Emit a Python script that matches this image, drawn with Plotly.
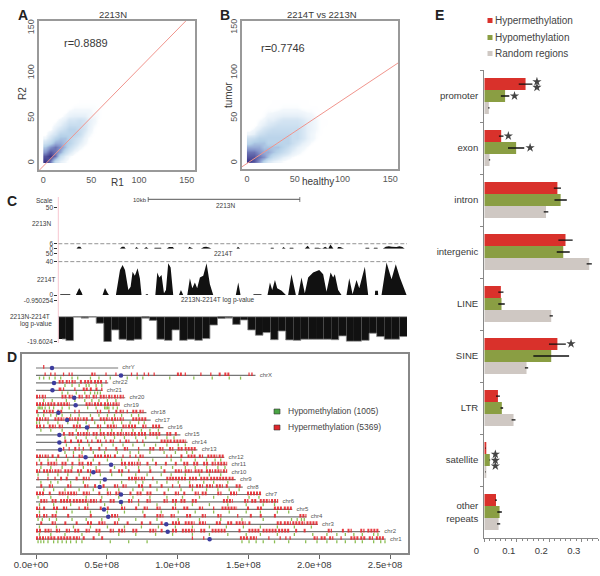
import plotly.graph_objects as go

# ---------- Panels A / B : density grids (5-unit cells, rows bottom to top), fits ----------
cell_centers = [2.5 + 5 * i for i in range(18)]
row_centers = [2.5 + 5 * i for i in range(14)]
density_a = [
    [10, 8, 3, 1, .3, 0, 0, 0, 0, 0, 0, 0, 0, 0, 0, 0, 0, 0],
    [9, 10, 8, 3, 1, .3, 0, 0, 0, 0, 0, 0, 0, 0, 0, 0, 0, 0],
    [7, 9, 8, 6, 3, 1.5, .4, 0, 0, 0, 0, 0, 0, 0, 0, 0, 0, 0],
    [5, 7, 8, 7, 5, 3, 1.5, .5, .1, 0, 0, 0, 0, 0, 0, 0, 0, 0],
    [2.5, 4, 6, 6, 5, 4, 2.5, 1.2, .4, .1, 0, 0, 0, 0, 0, 0, 0, 0],
    [.5, 2, 4, 5, 5, 4, 3, 2, .7, .2, 0, 0, 0, 0, 0, 0, 0, 0],
    [0, 1, 2, 4, 4, 4, 4, 3, 1.2, .4, .1, 0, 0, 0, 0, 0, 0, 0],
    [0, 0, 1, 2, 3, 4, 4, 3, 2, .8, .2, 0, 0, 0, 0, 0, 0, 0],
    [0, 0, .4, 1, 2, 3, 3, 3, 2, 1, .3, .1, 0, 0, 0, 0, 0, 0],
    [0, 0, 0, .5, 1, 2, 2, 2.5, 2, 1, .5, .1, 0, 0, 0, 0, 0, 0],
    [0, 0, 0, 0, .4, .8, 1, 1, 1, .5, .3, .2, 0, 0, 0, 0, 0, 0],
    [0, 0, 0, 0, 0, .3, .4, .4, .4, .4, .2, .2, 0, 0, 0, 0, 0, 0],
    [0, 0, 0, 0, 0, 0, .2, .2, .2, .2, .2, .1, .1, 0, 0, 0, 0, 0],
    [0, 0, 0, 0, 0, 0, 0, .1, .1, .1, .1, .1, 0, 0, 0, 0, 0, 0],
]
density_b = [
    [10, 9, 7, 4, 2, 1, .5, .2, 0, 0, 0, 0, 0, 0, 0, 0, 0, 0],
    [9, 9, 8, 7, 5, 3, 2, 1, .5, .2, 0, 0, 0, 0, 0, 0, 0, 0],
    [8, 8, 7, 6, 6, 5, 4, 3, 2, 1, .5, .2, 0, 0, 0, 0, 0, 0],
    [6, 6, 6, 5, 5, 5, 5, 4, 3, 2, 1, .5, .2, 0, 0, 0, 0, 0],
    [4, 5, 5, 5, 4, 4, 4, 4, 4, 3, 2, 1, .5, .2, 0, 0, 0, 0],
    [2.5, 3, 4, 4, 4, 4, 4, 4, 4, 3, 3, 2, 1, .5, .2, 0, 0, 0],
    [.5, 1, 2.5, 3, 3.5, 3.5, 3.5, 3.5, 3.5, 3, 3, 2, 1, .5, .2, .1, 0, 0],
    [0, .3, 1, 2, 2.5, 3, 3, 3, 3, 3, 3, 2, 1, .7, .3, .1, 0, 0],
    [0, 0, .4, 1, 1.5, 2, 2.5, 2.5, 2.5, 2.5, 2.5, 2, 1, .7, .3, .1, .1, 0],
    [0, 0, .2, .4, 1, 1, 1.5, 2, 2, 2, 2, 1.5, 1, .7, .3, .1, .1, 0],
    [0, 0, 0, .2, .4, .6, .8, 1, 1, 1, 1, .8, .5, .4, .2, .1, 0, 0],
    [0, 0, 0, .1, .2, .2, .3, .4, .4, .4, .4, .3, .2, .2, .1, .1, 0, 0],
    [0, 0, 0, 0, .1, .1, .1, .2, .2, .2, .2, .1, .1, .1, .1, 0, 0, 0],
    [0, 0, 0, 0, 0, .1, .1, .1, .1, .1, .1, .1, .1, 0, 0, 0, 0, 0],
]
fit_a = (-3.5, 1.083)
fit_b = (-0.3, 0.702)
x_span_a = (-4.5, 158.6)
x_span_b = (-5.2, 158.2)

# ---------- Panel C : tracks ----------
track_n_kb = [1.2, 1.3, 1.45, 1.55, 4.05, 4.2, 4.35, 4.45, 5.05, 5.15, 5.3, 5.65, 5.8, 5.95, 6.33, 6.35, 6.78, 6.8, 7.15, 7.3, 7.55, 7.65,
              8.55, 8.65, 8.9, 9.4, 9.6, 9.75, 9.95, 10.1, 11.75, 11.85, 12.0, 14.0, 14.02, 14.2, 14.22, 14.75, 14.85, 15.0, 15.25, 15.27, 15.5, 15.52,
              16.25, 16.45, 16.6, 16.9, 16.92, 17.15, 17.4, 17.6, 17.8, 17.95, 18.15, 18.4, 18.45, 18.6, 18.85,
              20.25, 20.27, 20.5, 20.52, 20.8, 20.82, 21.05, 21.07, 21.4, 21.6, 21.8, 22.0, 22.3, 22.5, 22.7, 22.85]
track_n_val = [0, 2.5, 2.5, 0, 0, 2.5, 2.5, 0, 0, 2, 0, 0, 2, 0, 0, 1, 1, 0, 0, 2, 2, 0,
               0, 2.5, 0, 0, 2, 2.5, 1.5, 0, 0, 2.5, 0, 0, 1, 1, 0, 0, 2, 0, 0, 1, 1, 0,
               0, 3.5, 0, 0, 1, 1, 0, 2.5, 0, 5, 0, 0, 2, 2, 0,
               0, 1, 1, 0, 0, 1, 1, 0, 0, 2.5, 3, 2.5, 2, 3, 2, 0]
track_t_kb = [.11, .15, .77, .81, 1.16, 1.25, 1.38, 1.54, 1.6, 2.92, 3.08, 3.23, 3.34,
              3.80, 4.07, 4.24, 4.40, 4.62, 4.77, 4.90, 5.05, 5.23, 5.38, 5.49, 5.76, 5.78, 5.91, 5.93,
              6.40, 6.53, 6.66, 6.81, 6.97, 7.10, 7.25, 7.41, 7.58, 7.96, 8.09, 8.24,
              8.51, 8.68, 8.84, 9.01, 9.16, 9.34, 9.56, 9.78, 10.0, 10.22, 11.71, 11.87, 12.02,
              12.86, 12.88, 13.39, 13.41, 13.80, 13.96, 14.11, 14.29, 14.44, 14.73, 15.01, 15.16, 15.38, 15.67,
              15.82, 16.04, 16.26, 16.48, 16.81, 17.21, 17.47, 17.69, 17.96, 18.13, 18.24, 18.46, 18.68,
              19.01, 19.19, 19.41, 19.67, 19.85, 20.22, 20.44, 20.88, 20.9, 21.08, 21.10,
              21.32, 21.65, 21.98, 22.26, 22.53, 22.97]
track_t_val = [0, 1, 1, 0, 0, 3, 8.5, 3, 0, 0, 8.5, 3, 0,
               0, 30, 36, 30, 6, 10, 28, 23, 32, 20, 0, 0, 1, 1, 0,
               0, 27, 21, 24, 2, 6, 38, 33, 0, 0, 6, 0,
               0, 20, 8, 15, 8, 21, 23, 38, 13, 0, 0, 15, 0,
               0, 1, 1, 0, 0, 15, 6, 18, 8, 5, 0, 0, 25, 0,
               0, 21, 2, 21, 27, 30, 25, 4, 27, 21, 25, 6, 0,
               0, 20, 1, 18, 8, 34, 0, 0, 5, 5, 0,
               0, 39, 19, 37, 21, 0]
window_index = list(range(46))
log_p_values = [-18.4, -19.1, -8.3, -8.8, -8.3, -11.3, -19.6, -14.3, -18.5, -19.0, -18.5, -8.9, -10.0, -18.5, -19.0, -14.3,
                -19.0, -18.5, -19.0, -18.2, -12.1, -9.1, -8.8, -11.8, -9.8, -14.3, -16.7, -15.5, -18.7, -14.8, -18.8, -19.0,
                -18.5, -18.5, -18.5, -18.5, -18.7, -17.0, -19.4, -19.4, -19.0, -15.8, -17.3, -18.5, -18.5, -17.3]
log_p_base = -8.34
window_kb = 0.5

# ---------- Panel D : genome map (Mb). Plain numbers are single sites, pairs are runs of sites ----------
chrom_names = ["chrY", "chrX", "chr22", "chr21", "chr20", "chr19", "chr18", "chr17", "chr16", "chr15", "chr14", "chr13",
               "chr12", "chr11", "chr10", "chr9", "chr8", "chr7", "chr6", "chr5", "chr4", "chr3", "chr2", "chr1"]
chrom_lengths = [58, 155, 51, 47, 63, 59, 78, 81, 90, 102, 107, 114, 133, 135, 135, 141, 146, 159, 171, 181, 191, 199, 243, 247]
centromeres = [11.3, 60, 12.7, 11.6, 27, 28, 15.8, 22, 36, 16.5, 16.5, 17, 35, 53, 40.5, 48.6, 45, 60, 60, 48, 51, 92, 93, 122.6]
hyper_y = [5]
hypo_y = []
hyper_x = [6, 10, 13, 19, 23, 25, (39, 42), 49, 56, 67, 71, 76, 79, 83, (99.5, 103), 105, 116, 123, (129, 131), (133, 137), 150, (152, 153)]
hypo_x = [2, 5, 9, 13, 17, 25, 29, 38, 44, 52, 64, 71, 75, 94, 111, 124, 136, 144]
hyper_22 = [(16, 20), (21, 24), (25, 28), (31, 33), (34, 40), (41, 47), 49]
hypo_22 = [20, 25, 30, 35, 37, 42, 46]
hyper_21 = [16, 17, 19, 27, (33, 37), (38, 40), (42, 44), 46]
hypo_21 = [18, 22, 28, 34, 38, 41, 43, 45]
hyper_20 = [(0, 3), (4, 7), (18, 22), (23, 26), (30, 33), (35, 38), (40, 43), (45, 50), (51, 54), (55, 58), (59, 62)]
hypo_20 = [5, 11, 21, 27, 34, 39, 44, 50, 56]
hyper_19 = [(0, 7), (8, 14), (15, 24), (35, 40), (41, 47), (48, 53), (54, 59)]
hypo_19 = [1, 2, 3, 4, 6, 9, 12, 18, 23, 36, 42, 48, 49, 50, 51, 54, 57]
hyper_18 = [(0, 2), (5, 8), (9, 13), (15, 19), 27, 30, 43, (45, 46), 51, (56, 58), (59, 62), 64, (68, 72), (73, 76)]
hypo_18 = [1, 5, 10, 14, 18, 24, 30, 38, 44, 50, 55, 60, 67, 72]
hyper_17 = [(0, 5), (6, 9), (13, 20), (21, 26), (27, 32), (33, 37), (39, 41), (45, 52), (53, 58), (59, 62), (68, 78)]
hypo_17 = [0, 2, 8, 15, 22, 29, 35, 41, 48, 54, 60, 66, 72, 76]
hyper_16 = [(0, 4), (5, 6), (9, 14), (16, 19), (26, 32), 37, (43, 46), (50, 57), (61, 64), (65, 71), (75, 78), (82, 88)]
hypo_16 = [3, 10, 18, 28, 36, 45, 53, 60, 68, 74, 80, 86]
hyper_15 = [(19, 21), (23, 27), (29, 32), (33, 38), (40, 44), (45, 49), (50, 56), (57, 62), (63, 66), (67, 71), (72, 78), (80, 88), (92, 96), (98, 100)]
hypo_15 = [20, 28, 35, 42, 48, 55, 62, 70, 77, 85, 92, 97]
hyper_14 = [(20, 22), (24, 26), (29, 33), 36, 39, (43, 46), 49, (52, 55), 59, (63, 66), 71, 75, (88, 96), (97, 106)]
hypo_14 = [21, 30, 37, 46, 54, 61, 68, 76, 84, 92, 100, 105]
hyper_13 = [(19, 20), 23, (27, 29), 30, 33, (38, 40), (44, 46), 49, (56, 58), (62, 65), 72, (80, 84), (87, 90), (94, 97), (100, 104), (105, 113)]
hypo_13 = [20, 26, 32, 40, 48, 57, 66, 72, 80, 90, 98, 106, 110]
hyper_12 = [(0, 5), (6, 9), (11, 13), (15, 17), 21, 26, (30, 33), (41, 47), (48, 53), (55, 57), 61, 66, 70, (73, 76), 92, 95, (102, 104), (107, 113), (115, 118), (121, 128), (129, 133)]
hypo_12 = [2, 8, 14, 22, 30, 40, 50, 60, 72, 82, 95, 102, 112, 120, 126, 130]
hyper_11 = [(0, 1), (3, 5), (8, 15), (18, 22), (25, 27), (30, 34), (36, 40), (44, 46), (60, 64), (65, 70), (71, 74), (78, 80), (84, 86), (91, 93), (98, 100), (104, 108), (111, 115), (118, 122), (124, 127), (128, 135)]
hypo_11 = [3, 10, 18, 25, 33, 42, 55, 63, 72, 80, 88, 96, 105, 112, 120, 128, 133]
hyper_10 = [(0, 3), (5, 12), (13, 18), (20, 26), (29, 33), (36, 39), (42, 46), (52, 54), (58, 62), (65, 66), (72, 74), (80, 82), (90, 92), (98, 103), (105, 110), (112, 118), (120, 125), (126, 131), (132, 135)]
hypo_10 = [1, 8, 15, 22, 30, 38, 45, 53, 60, 70, 78, 88, 95, 105, 115, 122, 130]
hyper_9 = [1, 8, 13, (17, 19), (21, 23), (28, 30), (33, 36), 37, (65, 70), (70, 73), (74, 77), (82, 83), (92, 96), (96, 106), (108, 114), (116, 122), (123, 135), (136, 140)]
hypo_9 = [3, 10, 15, 24, 33, 45, 60, 70, 75, 85, 92, 100, 108, 118, 125, 135]
hyper_8 = [(3, 5), (9, 12), (22, 25), (34, 37), (41, 43), (47, 49), (55, 58), (61, 64), (72, 76), (80, 82), (88, 90), 96, 101, (108, 111), (113, 118), (120, 125), (127, 132), (134, 136), (141, 145)]
hypo_8 = [5, 12, 20, 30, 40, 50, 58, 68, 75, 85, 93, 102, 110, 120, 128, 136, 143]
hyper_7 = [(0, 6), (9, 11), (16, 21), (22, 29), (33, 38), (44, 46), (50, 53), (56, 60), (66, 68), (71, 75), (78, 82), (90, 92), (98, 101), (104, 106), (112, 115), (117, 121), (128, 131), (137, 142), (149, 159)]
hypo_7 = [1, 10, 22, 35, 46, 58, 68, 80, 92, 103, 115, 125, 135, 150, 157]
hyper_6 = [(3, 8), (11, 15), (17, 25), (26, 37), (38, 43), (45, 47), (52, 56), (65, 68), 72, (78, 81), (90, 93), (96, 100), (102, 106), (110, 114), (132, 139), (147, 150), (152, 156), (158, 165), (166, 171)]
hypo_6 = [2, 12, 24, 36, 48, 60, 72, 85, 98, 110, 122, 135, 148, 160, 168]
hyper_5 = [(0, 3), (5, 7), (12, 16), (19, 22), 30, (34, 37), (45, 47), (50, 52), (60, 63), (70, 72), (76, 79), (85, 88), (96, 99), (104, 108), (115, 118), 125, (131, 142), (149, 151), (156, 160), (168, 174), (175, 181)]
hypo_5 = [2, 14, 25, 38, 50, 62, 75, 88, 100, 112, 125, 136, 148, 158, 170, 178]
hyper_4 = [(0, 3), (5, 8), (11, 15), (22, 24), (38, 40), (53, 58), (76, 78), (85, 90), (95, 98), (106, 110), (117, 120), (128, 131), 142, (151, 153), (158, 160), (168, 170), (186, 191)]
hypo_4 = [1, 4, 9, 14, 25, 35, 46, 58, 70, 85, 100, 115, 130, 145, 160, 180, 184, 187, 189]
hyper_3 = [(3, 5), (11, 14), (20, 22), (28, 30), (36, 40), (44, 49), (55, 58), (64, 66), (74, 76), (80, 82), (88, 90), (96, 102), (105, 112), (115, 120), (127, 131), (135, 139), (141, 148), (150, 152), (170, 174), (175, 180), (181, 190), (191, 199)]
hypo_3 = [2, 14, 26, 38, 50, 62, 74, 86, 98, 110, 122, 134, 146, 158, 170, 182, 194]
hyper_2 = [(0, 4), (6, 11), (14, 17), (21, 24), (27, 31), (35, 38), (42, 46), (52, 55), (58, 63), (68, 72), (80, 85), (88, 90), (96, 100), (103, 112), (116, 120), (124, 134), (143, 145), (150, 158), (160, 170), (171, 179), (183, 185), (189, 191), (206, 209), (216, 218), (220, 223), (229, 232), (234, 242)]
hypo_2 = [2, 10, 20, 32, 44, 58, 70, 84, 96, 110, 122, 135, 148, 158, 170, 182, 195, 205, 212, 218, 224, 230, 238, 241]
hyper_1 = [(0, 7), (8, 14), (15, 25), (26, 31), (33, 35), (40, 42), (46, 48), 110, 118, (144, 150), (151, 156), 164, 172, 176, 179, (196, 199), (201, 205), (207, 210), 215, (222, 228), (229, 233), (235, 238), (240, 246)]
hypo_1 = [1, 3, 5, 8, 12, 15, 18, 21, 24, 28, 32, 52, 65, 78, 145, 150, 155, 160, 168, 178, 190, 198, 205, 212, 218, 225, 230, 238, 243, 246]
hyper_rows = [hyper_y, hyper_x, hyper_22, hyper_21, hyper_20, hyper_19, hyper_18, hyper_17, hyper_16, hyper_15, hyper_14, hyper_13,
              hyper_12, hyper_11, hyper_10, hyper_9, hyper_8, hyper_7, hyper_6, hyper_5, hyper_4, hyper_3, hyper_2, hyper_1]
hypo_rows = [hypo_y, hypo_x, hypo_22, hypo_21, hypo_20, hypo_19, hypo_18, hypo_17, hypo_16, hypo_15, hypo_14, hypo_13,
             hypo_12, hypo_11, hypo_10, hypo_9, hypo_8, hypo_7, hypo_6, hypo_5, hypo_4, hypo_3, hypo_2, hypo_1]
genome_ticks = [0, 50, 100, 150, 200, 250]
genome_tick_labels = ["0.0e+00", "0.5e+08", "1.0e+08", "1.5e+08", "2.0e+08", "2.5e+08"]

# ---------- Panel E : fractions ----------
features = ["promoter", "exon", "intron", "intergenic", "LINE", "SINE", "LTR", "satellite", "other<br>repeats"]
hyper_frac = [.127, .052, .225, .250, .051, .225, .042, .004, .036]
hypo_frac = [.064, .098, .235, .243, .053, .206, .054, .017, .047]
random_frac = [.014, .016, .190, .323, .206, .130, .090, .004, .044]
hyper_err = [.021, .007, .011, .022, .008, .026, .006, .001, .003]
hypo_err = [.013, .025, .019, .020, .010, .055, .004, .001, .007]
random_err = [.002, .002, .007, .008, .005, .005, .006, .001, .005]
star_value = [.162, .162, .093, .074, .141, .267, .034, .034, .034]
star_row = [-.275, -.167, 0, .769, .994, 4.763, 6.89, 7.006, 7.115]
RED, GREEN, GREY = "#d9312b", "#8a9e43", "#cfc8c3"

W, H = 600, 576
FONT = "Liberation Sans"
TXT = "#3a3a3a"


def xd(a, b):
    return [a / W, b / W]


def yd(top, bottom):
    return [1 - bottom / H, 1 - top / H]


annotations, shapes = [], []


def label(text, x, y, size=7, anchor="center", angle=0, color=TXT, bold=False):
    annotations.append(dict(text=f"<b>{text}</b>" if bold else text, x=x / W, y=1 - y / H, xref="paper", yref="paper",
                            xanchor=anchor, yanchor="middle", showarrow=False, textangle=angle,
                            font=dict(family=FONT, size=size, color=color)))


def swatch(x0, x1, y0, y1, color, line=None):
    shapes.append(dict(type="rect", xref="paper", yref="paper", x0=x0 / W, x1=x1 / W, y0=1 - y0 / H, y1=1 - y1 / H,
                       fillcolor=color, line=dict(width=0.6 if line else 0, color=line or color)))


fig = go.Figure()
scale = [[0, "rgba(255,255,255,0)"], [.03, "#f3f8fc"], [.15, "#dbe9f5"], [.45, "#b4d0e8"], [.7, "#8494cb"], [1, "#3d3689"]]

for dens, fit, span, xa, ya in [(density_a, fit_a, x_span_a, "x", "y"), (density_b, fit_b, x_span_b, "x2", "y2")]:
    fig.add_trace(go.Heatmap(x=cell_centers, y=row_centers, z=dens, colorscale=scale, zmin=0, zmax=10, zsmooth="best",
                             showscale=False, xaxis=xa, yaxis=ya, hoverinfo="skip"))
    fig.add_trace(go.Scatter(x=list(span), y=[fit[0] + fit[1] * v for v in span], mode="lines",
                             line=dict(color="#f0948c", width=1), xaxis=xa, yaxis=ya, showlegend=False))

# Panel C
fig.add_trace(go.Scatter(x=track_n_kb, y=track_n_val, mode="lines", fill="tozeroy", fillcolor="#111", line=dict(width=0),
                         xaxis="x3", yaxis="y3", showlegend=False))
fig.add_trace(go.Scatter(x=track_t_kb, y=track_t_val, mode="lines", fill="tozeroy", fillcolor="#111", line=dict(width=0),
                         xaxis="x3", yaxis="y4", showlegend=False))
window_mid = [(i + .5) * window_kb for i in window_index]
fig.add_trace(go.Bar(x=window_mid, y=[v - log_p_base for v in log_p_values], base=log_p_base,
                     width=window_kb, marker=dict(color="#111", line=dict(width=0)), xaxis="x3", yaxis="y5", showlegend=False))
fig.add_trace(go.Scatter(x=window_mid, y=log_p_values, mode="lines", line=dict(color="#888", width=0.8, shape="hvh"),
                         xaxis="x3", yaxis="y5", showlegend=False))


def segments(rows, low, tick):
    xs, ys = [], []
    for r, row in enumerate(rows):
        for site in row:
            s, e = site if isinstance(site, tuple) else (site, site + tick)
            xs += [s, e, None]
            ys += [r + low, r + low, None]
    return xs, ys


# Panel D
gx, gy = [], []
for r, n in enumerate(chrom_lengths):
    gx += [0, n, None]
    gy += [r, r, None]
fig.add_trace(go.Scatter(x=gx, y=gy, mode="lines", line=dict(color="#777", width=1.2), xaxis="x4", yaxis="y6", showlegend=False))
hx, hy = segments(hypo_rows, 0.36, 0.9)
fig.add_trace(go.Scatter(x=hx, y=hy, mode="lines", line=dict(color="#7fb83f", width=3), opacity=0.9, xaxis="x4", yaxis="y6", showlegend=False))
rx, ry = segments(hyper_rows, -0.15, 0.9)
fig.add_trace(go.Scatter(x=rx, y=ry, mode="lines", line=dict(color="#e8262d", width=3.6, dash="2px,1px"), opacity=0.88, xaxis="x4", yaxis="y6", showlegend=False))
fig.add_trace(go.Scatter(x=centromeres, y=list(range(24)), mode="markers", marker=dict(color="#3d3d9e", size=4.5),
                         xaxis="x4", yaxis="y6", showlegend=False))
fig.add_trace(go.Scatter(x=[n + 3 for n in chrom_lengths], y=list(range(24)), mode="text", text=chrom_names, textposition="middle right",
                         textfont=dict(family=FONT, size=6, color="#555"), xaxis="x4", yaxis="y6", showlegend=False))

# Panel E
for vals, errs, col in [(hyper_frac, hyper_err, RED), (hypo_frac, hypo_err, GREEN), (random_frac, random_err, GREY)]:
    fig.add_trace(go.Bar(y=features, x=vals, orientation="h", marker=dict(color=col, line=dict(width=0)),
                         error_x=dict(type="data", array=errs, color="#111", thickness=1.3, width=0),
                         xaxis="x5", yaxis="y7", showlegend=False))
fig.add_trace(go.Scatter(x=star_value, y=star_row, mode="markers", marker=dict(symbol="star", size=7, color="#444"),
                         xaxis="x5", yaxis="y8", showlegend=False))

# ---------- furniture ----------
label("A", 23, 15, 14, bold=True, color="#222")
label("B", 225, 15, 14, bold=True, color="#222")
label("C", 12, 201, 14, bold=True, color="#222")
label("D", 12, 357, 14, bold=True, color="#222")
label("E", 439, 15, 14, bold=True, color="#222")
label("2213N", 113, 15, 9.5)
label("2214T vs 2213N", 322, 15, 9.5)
label("r=0.8889", 62, 43, 11, anchor="left")
label("r=0.7746", 259, 48, 11, anchor="left")
label("R1", 117, 183, 10)
label("R2", 23, 94, 10, angle=-90)
label("healthy", 318, 181, 10)
label("tumor", 228, 95, 10, angle=-90)
label("Scale", 55, 200.5, 6.5, anchor="right")
label("10kb", 140, 200, 6)
label("2213N", 225, 206, 6.5)
label("2213N", 41, 223, 6.5)
label("2214T", 223, 253.3, 6.5)
label("2214T", 46, 279.5, 6.5)
label("2213N-2214T log p-value", 218, 300.3, 6.5)
label("2213N-2214T", 30, 316.7, 6.5)
label("log p-value", 36, 324.3, 6.5)
label("Hypomethylation (1005)", 286, 411, 8.5, anchor="left", color="#444")
label("Hypermethylation (5369)", 286, 427, 8.5, anchor="left", color="#444")
label("Hypermethylation", 493.3, 20.5, 10, anchor="left", color="#444")
label("Hypomethylation", 493.3, 37.5, 10, anchor="left", color="#444")
label("Random regions", 493.3, 53.5, 10, anchor="left", color="#444")

swatch(274, 280, 409, 414, "#4aa544", "#333")
swatch(274, 280, 425, 430, "#e0262c", "#333")
swatch(487.5, 492.5, 18, 23, RED)
swatch(487.5, 492.5, 35, 40, GREEN)
swatch(487.5, 492.5, 51, 56, GREY)

# pink track rule, scale bar, view limits
shapes.append(dict(type="line", xref="paper", yref="paper", x0=58.3 / W, x1=58.3 / W, y0=1 - 197 / H, y1=1 - 343 / H,
                   line=dict(color="#f7c6d0", width=1)))
scale_bar = (5.93, 15.93)
shapes.append(dict(type="line", xref="x3", yref="paper", x0=scale_bar[0], x1=scale_bar[1], y0=1 - 199.4 / H, y1=1 - 199.4 / H,
                   line=dict(color="#777", width=1.2)))
for sb in scale_bar:
    shapes.append(dict(type="line", xref="x3", yref="paper", x0=sb, x1=sb, y0=1 - 197 / H, y1=1 - 202 / H, line=dict(color="#444", width=0.7)))
shapes.append(dict(type="line", xref="x3", yref="y3", x0=0, x1=23, y0=6, y1=6, line=dict(color="#666", width=0.7, dash="4px,2px")))
shapes.append(dict(type="line", xref="x3", yref="y4", x0=0, x1=22.2, y0=40, y1=40, line=dict(color="#666", width=0.7, dash="4px,2px")))
shapes.append(dict(type="line", xref="x3", yref="y5", x0=0, x1=23, y0=log_p_base, y1=log_p_base, line=dict(color="#999", width=0.8)))

GRID = dict(showgrid=False, zeroline=False, automargin=False)
BOX = dict(GRID, showline=True, mirror=True, linecolor="#999", linewidth=1.5, ticks="", tickfont=dict(family=FONT, size=9, color="#555"))
TRK = dict(GRID, showline=False, ticks="outside", ticklen=3, tickwidth=0.7, tickcolor="#333",
           tickfont=dict(family=FONT, size=6.5, color=TXT))

fig.update_layout(
    template="none",
    width=W, height=H, margin=dict(l=0, r=0, t=0, b=0, autoexpand=False), paper_bgcolor="white", plot_bgcolor="white",
    barmode="group", bargap=0.31, bargroupgap=0, showlegend=False,
    annotations=annotations, shapes=shapes,
    xaxis=dict(BOX, domain=xd(39, 195), range=list(x_span_a), tickvals=[0, 50, 100, 150], anchor="y"),
    yaxis=dict(BOX, domain=yd(21, 170), range=[-7.8, 157.8], tickvals=[0, 50, 100, 150], tickangle=-90, anchor="x"),
    xaxis2=dict(BOX, domain=xd(242, 398), range=list(x_span_b), tickvals=[0, 50, 100, 150], anchor="y2"),
    yaxis2=dict(BOX, domain=yd(21, 169), range=[-6.4, 157.2], tickvals=[0, 50, 100, 150], tickangle=-90, anchor="x2"),
    xaxis3=dict(GRID, domain=xd(58.3, 407), range=[0, 23], visible=False, anchor="y5"),
    yaxis3=dict(TRK, domain=yd(207.3, 248.7), range=[0, 50], tickvals=[0, 6, 50], anchor="x3"),
    yaxis4=dict(TRK, domain=yd(253.3, 295), range=[0, 50], tickvals=[0, 40, 50], anchor="x3"),
    yaxis5=dict(TRK, domain=yd(300.3, 341.7), range=[-19.6024, -0.950254], tickvals=[-19.6024, -0.950254],
                ticktext=["-19.6024", "-0.950254"], anchor="x3"),
    xaxis4=dict(GRID, domain=xd(21.7, 408), range=[-10.1, 262.7], tickvals=genome_ticks, ticktext=genome_tick_labels,
                showline=True, mirror=True, linecolor="#888", linewidth=1.5, ticks="outside", ticklen=4, tickcolor="#666",
                ticklabelshift=-5, ticklabelstandoff=-2, tickfont=dict(family=FONT, size=9.5, color=TXT), anchor="y6"),
    yaxis6=dict(GRID, domain=yd(354, 553.3), range=[24.9, -1.88], showline=True, mirror=True, linecolor="#888", linewidth=1.5,
                showticklabels=False, ticks="", anchor="x4"),
    xaxis5=dict(GRID, domain=xd(484.3, 598), range=[0, 0.35], tickvals=[0, .1, .2, .3], ticktext=["0", "0.1", "0.2", "0.3"],
                minor=dict(dtick=1 / 60, ticks="outside", ticklen=2, tickcolor="#888"),
                showline=True, linecolor="#888", linewidth=1.2, ticks="outside", ticklen=3, tickcolor="#888", ticklabelshift=-8,
                tickfont=dict(family=FONT, size=9.5, color=TXT), anchor="y7"),
    yaxis7=dict(GRID, domain=yd(70, 538), type="category", categoryorder="array", categoryarray=features, autorange="reversed",
                tickson="boundaries", showline=True, linecolor="#888", linewidth=1.2, ticks="outside", ticklen=3, tickcolor="#888",
                ticklabelstandoff=3, tickfont=dict(family=FONT, size=9.6, color=TXT), anchor="x5"),
    yaxis8=dict(GRID, domain=yd(70, 538), range=[8.5, -0.5], visible=False, overlaying="y7", anchor="x5"),
)

fig.write_html("out.html", config={"displayModeBar": False}, post_script="document.body.style.margin='0';")
